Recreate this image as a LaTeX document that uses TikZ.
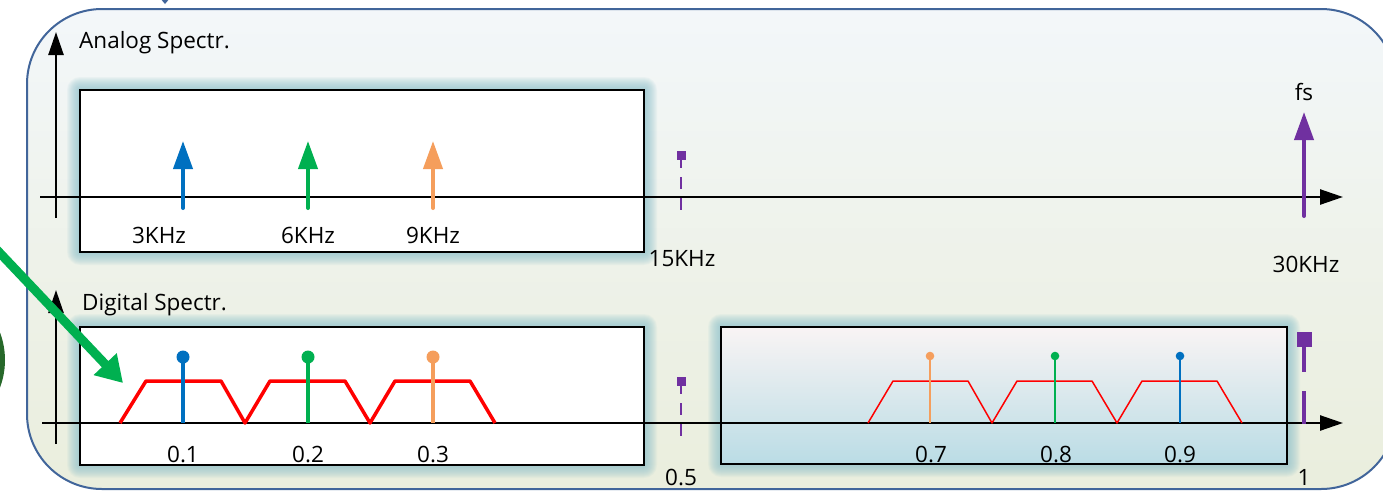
\documentclass[tikz,border=0pt]{standalone}
\usepackage{fontspec}
\setmainfont{Open Sans}
\usetikzlibrary{arrows.meta}

\definecolor{frameblue}{HTML}{41659A}
\definecolor{bgtop}{HTML}{F3F7FA}
\definecolor{bgbot}{HTML}{EAEEDD}
\definecolor{glowcol}{HTML}{8FC3CE}
\definecolor{sblue}{HTML}{0070C0}
\definecolor{sgreen}{HTML}{00B050}
\definecolor{sorange}{HTML}{F59E5C}
\definecolor{spurple}{HTML}{7030A0}
\definecolor{dkgreen}{HTML}{27682A}
\definecolor{bandtop}{HTML}{F9F4F4}
\definecolor{bandbot}{HTML}{BADCE5}

% soft halo behind a rectangular panel
\newcommand\glowrect[4]{%
  \foreach \g in {13,...,1}{%
    \fill[glowcol, opacity=0.085, rounded corners=\g pt]
      (#1-\g,#2-\g) rectangle (#3+\g,#4+\g);
  }}

\begin{document}
\begin{tikzpicture}[x=1pt,y=-1pt,
  txt/.style={font=\fontsize{22.5}{26}\selectfont, inner sep=0pt, anchor=base},
  axisline/.style={line width=2.5pt, -{Triangle[length=23pt,width=15pt]}},
  panel/.style={draw=black, line width=2.5pt, fill=white},
  arrowstem/.style={line width=4pt, line cap=round, -{Triangle[length=28pt,width=19pt]}},
  thickstem/.style={line width=4pt},
  thinstem/.style={line width=1.5pt},
  band/.style={red, line width=3.5pt, line join=round},
  thinband/.style={red, line width=1.5pt, line join=round},
  halfmark/.style={spurple, line width=2.2pt, dash pattern=on 12pt off 9pt, dash phase=4pt},
]
\useasboundingbox (0,0) rectangle (1383,491);
\clip (0,0) rectangle (1383,491);

% outer rounded frame
\path[top color=bgtop, bottom color=bgbot, middle color=bgbot!55!bgtop,
      draw=frameblue, line width=2pt, rounded corners=75pt]
  (27,9) rectangle (1396,489);
\fill[frameblue] (160,-2) -- (170,-2) -- (165,4) -- cycle;

% partial disc at the left edge
\fill[dkgreen] (-73,360) circle (78pt);

% ---------- analog spectrum ----------
\glowrect{80}{90}{644}{252}
\draw[panel] (80,90) rectangle (644,252);

\coordinate (uy0) at (56,218);  \coordinate (uy1) at (56,32);
\coordinate (ux0) at (40,197);  \coordinate (ux1) at (1343,197);
\draw[axisline] (uy0) -- (uy1);
\draw[axisline] (ux0) -- (ux1);
\node[txt, anchor=base west] (atitle) at (79,48) {Analog Spectr.};

\coordinate (a3b) at (183,208);  \coordinate (a3t) at (183,141);
\coordinate (a6b) at (308,208);  \coordinate (a6t) at (308,141);
\coordinate (a9b) at (433,208);  \coordinate (a9t) at (433,141);
\draw[arrowstem, sblue]   (a3b) -- (a3t);
\draw[arrowstem, sgreen]  (a6b) -- (a6t);
\draw[arrowstem, sorange] (a9b) -- (a9t);
\node[txt] (l3k) at (159,243) {3KHz};
\node[txt] (l6k) at (308,243) {6KHz};
\node[txt] (l9k) at (433,243) {9KHz};

% half sampling rate marker
\coordinate (h1b) at (681,211); \coordinate (h1t) at (681,160);
\fill[spurple] (676.5,151) rectangle (685.5,160);
\draw[halfmark] (h1t) -- (h1b);
\node[txt] (l15k) at (682,266) {15KHz};

% sampling frequency
\coordinate (fsb) at (1304,216); \coordinate (fst) at (1304,112);
\draw[arrowstem, spurple] (fsb) -- (fst);
\node[txt] (lfs) at (1304,100) {fs};
\node[txt] (l30k) at (1306,272) {30KHz};

% ---------- digital spectrum ----------
\glowrect{80}{327}{644}{465}
\draw[panel] (80,327) rectangle (644,465);
\glowrect{721}{327}{1287}{464}
\draw[top color=bandtop, bottom color=bandbot, draw=black, line width=1.5pt]
  (721,327) rectangle (1287,464);

\coordinate (dy0) at (56,444);  \coordinate (dy1) at (56,290);
\coordinate (dx0) at (42,423);  \coordinate (dx1) at (1343,423);
\draw[axisline] (dy0) -- (dy1);
\draw[axisline] (dx0) -- (dx1);
\node[txt, anchor=base west] (dtitle) at (82,310) {Digital Spectr.};

% filter bands around the baseband tones
\draw[band] (120,423) -- (146,381) -- (221,381) -- (245,423) -- (270,381)
  -- (345,381) -- (370,423) -- (395,381) -- (470,381) -- (495,423);
% mirrored bands
\draw[thinband] (868,423) -- (893,381) -- (968,381) -- (992,423) -- (1017,381)
  -- (1092,381) -- (1117,423) -- (1142,381) -- (1217,381) -- (1242,423);

% sampled tones
\draw[thickstem, sblue]   (183,423) -- (183,357);
\draw[thickstem, sgreen]  (308,423) -- (308,357);
\draw[thickstem, sorange] (433,423) -- (433,357);
\fill[sblue]   (183,357) circle (6.5pt);
\fill[sgreen]  (308,357) circle (6.5pt);
\fill[sorange] (433,357) circle (6.5pt);

\draw[thinstem, sorange] (930,423) -- (930,356);
\draw[thinstem, sgreen]  (1055,423) -- (1055,356);
\draw[thinstem, sblue]   (1180,423) -- (1180,356);
\fill[sorange] (930,356) circle (4.3pt);
\fill[sgreen]  (1055,356) circle (4.3pt);
\fill[sblue]   (1180,356) circle (4.3pt);

\node[txt] (l01) at (183,462) {0.1};
\node[txt] (l02) at (308,462) {0.2};
\node[txt] (l03) at (433,462) {0.3};
\node[txt] (l07) at (931,462) {0.7};
\node[txt] (l08) at (1056,462) {0.8};
\node[txt] (l09) at (1180,462) {0.9};

% normalised half rate and full rate markers
\coordinate (h2b) at (681,437); \coordinate (h2t) at (681,386);
\fill[spurple] (676.5,377) rectangle (685.5,386);
\draw[halfmark] (h2t) -- (h2b);
\node[txt] (l05) at (681,485.5) {0.5};

\fill[spurple] (1297,332) rectangle (1312,347);
\coordinate (f1a) at (1304,347); \coordinate (f1b) at (1304,372);
\coordinate (f1c) at (1304,391); \coordinate (f1d) at (1304,424);
\draw[spurple, line width=4pt] (f1a) -- (f1b);
\draw[spurple, line width=4pt] (f1c) -- (f1d);
\node[txt] (l1) at (1304,485.5) {1};

% pointer to the filter band
\coordinate (gs) at (-20,232); \coordinate (gt) at (123,383);
\draw[sgreen, line width=9pt, -{Triangle[length=26pt,width=30pt]}] (gs) -- (gt);
\end{tikzpicture}
\end{document}
